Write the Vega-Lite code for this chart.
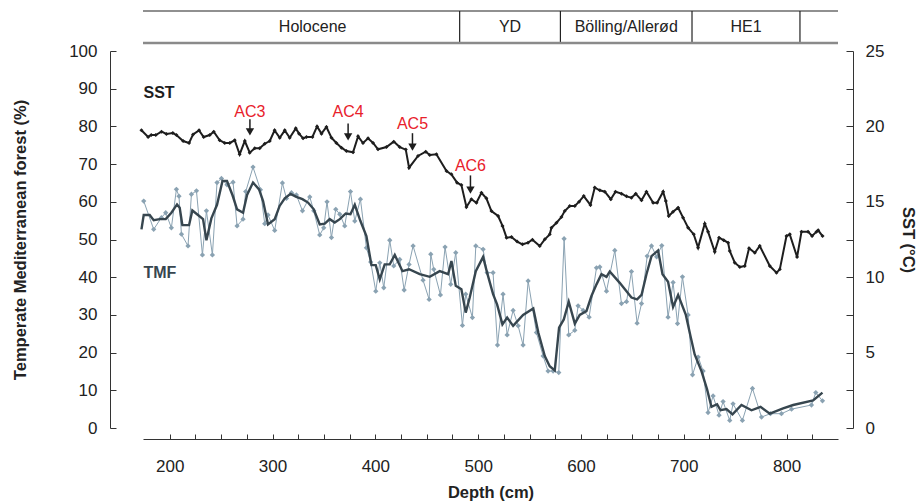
{
  "$schema": "https://vega.github.io/schema/vega-lite/v6.json",
  "background": "white",
  "padding": {"left": 12, "top": 10, "right": 5, "bottom": 0},
  "width": 695,
  "height": 417,
  "config": {
    "view": {"stroke": null},
    "font": "Liberation Sans",
    "axis": {
      "labelFont": "Liberation Sans",
      "titleFont": "Liberation Sans",
      "labelFontSize": 17,
      "labelColor": "#222222",
      "titleFontSize": 16.5,
      "titleFontWeight": "bold",
      "titleColor": "#222222",
      "domainColor": "#333333",
      "tickColor": "#333333",
      "grid": false
    }
  },
  "datasets": {
    "periods": [
      {"period": "Holocene", "start": 196, "end": 482},
      {"period": "YD", "start": 482, "end": 580},
      {"period": "Bölling/Allerød", "start": 580, "end": 708},
      {"period": "HE1", "start": 708, "end": 813}
    ],
    "sst": [
      {"depth": 172.5, "sst": 19.74}, {"depth": 179, "sst": 19.3}, {"depth": 182, "sst": 19.43}, {"depth": 186.4, "sst": 19.43},
      {"depth": 192, "sst": 19.65}, {"depth": 196.8, "sst": 19.5}, {"depth": 203, "sst": 19.56}, {"depth": 206.5, "sst": 19.43},
      {"depth": 213, "sst": 19.03}, {"depth": 218.8, "sst": 18.9}, {"depth": 222.7, "sst": 19.47}, {"depth": 228.5, "sst": 19.74},
      {"depth": 233, "sst": 19.3}, {"depth": 238.9, "sst": 19.43}, {"depth": 242.8, "sst": 19.65}, {"depth": 248.6, "sst": 19.08},
      {"depth": 253.5, "sst": 18.9}, {"depth": 258.4, "sst": 18.9}, {"depth": 263.2, "sst": 19.08}, {"depth": 268, "sst": 18.15},
      {"depth": 273, "sst": 19.03}, {"depth": 277.8, "sst": 18.26}, {"depth": 282.7, "sst": 18.55}, {"depth": 287.5, "sst": 18.55},
      {"depth": 292.4, "sst": 18.85}, {"depth": 297.3, "sst": 19.03}, {"depth": 302, "sst": 19.74}, {"depth": 307, "sst": 19.25},
      {"depth": 311.9, "sst": 19.74}, {"depth": 316.7, "sst": 19.25}, {"depth": 322.6, "sst": 19.87}, {"depth": 325.8, "sst": 19.52},
      {"depth": 329.7, "sst": 19.21}, {"depth": 333, "sst": 19.3}, {"depth": 338.8, "sst": 19.3}, {"depth": 343.3, "sst": 20.0},
      {"depth": 347.6, "sst": 19.52}, {"depth": 352.4, "sst": 19.96}, {"depth": 357.3, "sst": 19.25}, {"depth": 362.1, "sst": 18.9},
      {"depth": 367, "sst": 18.59}, {"depth": 371.9, "sst": 18.37}, {"depth": 378.3, "sst": 18.28}, {"depth": 383.2, "sst": 19.34},
      {"depth": 388, "sst": 18.9}, {"depth": 392.9, "sst": 19.21}, {"depth": 397.8, "sst": 18.9}, {"depth": 402.6, "sst": 18.48},
      {"depth": 410.8, "sst": 18.63}, {"depth": 417.9, "sst": 18.99}, {"depth": 423.7, "sst": 18.63}, {"depth": 429.6, "sst": 18.46},
      {"depth": 432.8, "sst": 17.26}, {"depth": 441.5, "sst": 18.04}, {"depth": 449, "sst": 18.32}, {"depth": 452.9, "sst": 18.1},
      {"depth": 459.4, "sst": 18.15}, {"depth": 469.2, "sst": 17.04}, {"depth": 474, "sst": 16.82}, {"depth": 479.5, "sst": 16.27},
      {"depth": 483.7, "sst": 16.11}, {"depth": 488.6, "sst": 14.66}, {"depth": 493.4, "sst": 15.17}, {"depth": 498.3, "sst": 14.94},
      {"depth": 503.2, "sst": 15.6}, {"depth": 508, "sst": 15.23}, {"depth": 512.9, "sst": 14.39}, {"depth": 519.4, "sst": 14.06},
      {"depth": 523.7, "sst": 13.4}, {"depth": 527.6, "sst": 12.62}, {"depth": 532.4, "sst": 12.67}, {"depth": 537.9, "sst": 12.36},
      {"depth": 543.1, "sst": 12.18}, {"depth": 548.5, "sst": 12.29}, {"depth": 552.8, "sst": 12.49}, {"depth": 559.9, "sst": 12.07},
      {"depth": 564.8, "sst": 12.51}, {"depth": 569.6, "sst": 12.84}, {"depth": 571.3, "sst": 13.28}, {"depth": 576.2, "sst": 13.61},
      {"depth": 581, "sst": 13.99}, {"depth": 584.2, "sst": 14.39}, {"depth": 589.1, "sst": 14.72}, {"depth": 594, "sst": 14.72},
      {"depth": 598.2, "sst": 15.01}, {"depth": 602.7, "sst": 15.38}, {"depth": 609.2, "sst": 14.79}, {"depth": 613.4, "sst": 15.94},
      {"depth": 618.3, "sst": 15.76}, {"depth": 623.2, "sst": 15.67}, {"depth": 629, "sst": 15.17}, {"depth": 633.6, "sst": 15.67},
      {"depth": 639.4, "sst": 15.54}, {"depth": 644.3, "sst": 15.36}, {"depth": 649.1, "sst": 15.27}, {"depth": 653.3, "sst": 15.54},
      {"depth": 658.9, "sst": 15.1}, {"depth": 663.7, "sst": 15.67}, {"depth": 670.2, "sst": 14.94}, {"depth": 674.1, "sst": 14.94},
      {"depth": 679.9, "sst": 15.67}, {"depth": 682.5, "sst": 15.05}, {"depth": 685.4, "sst": 14.06}, {"depth": 689.6, "sst": 14.34},
      {"depth": 694.5, "sst": 14.61}, {"depth": 699.3, "sst": 13.95}, {"depth": 704.2, "sst": 13.28}, {"depth": 709.7, "sst": 12.84},
      {"depth": 713.9, "sst": 11.96}, {"depth": 720.4, "sst": 13.55}, {"depth": 723.6, "sst": 13.02}, {"depth": 730.1, "sst": 11.69},
      {"depth": 734.3, "sst": 12.62}, {"depth": 738.9, "sst": 12.45}, {"depth": 743.1, "sst": 12.29}, {"depth": 744.7, "sst": 11.74},
      {"depth": 749.6, "sst": 10.96}, {"depth": 754.5, "sst": 10.68}, {"depth": 759.3, "sst": 10.74}, {"depth": 763.5, "sst": 11.92},
      {"depth": 769.1, "sst": 11.62}, {"depth": 773.9, "sst": 12.07}, {"depth": 783.7, "sst": 10.74}, {"depth": 790.2, "sst": 10.3},
      {"depth": 793.4, "sst": 10.52}, {"depth": 799.9, "sst": 12.73}, {"depth": 803.1, "sst": 12.84}, {"depth": 810.2, "sst": 11.34},
      {"depth": 814.5, "sst": 13.02}, {"depth": 820.9, "sst": 13.02}, {"depth": 824.8, "sst": 12.73}, {"depth": 829.1, "sst": 13.02},
      {"depth": 830.7, "sst": 13.11}, {"depth": 835, "sst": 12.73}
    ],
    "tmfRaw": [
      {"depth": 174.7, "tmf": 60.2}, {"depth": 184.4, "tmf": 52.7}, {"depth": 191.9, "tmf": 55.8}, {"depth": 196.1, "tmf": 57.1},
      {"depth": 201.6, "tmf": 53.1}, {"depth": 206.5, "tmf": 63.3}, {"depth": 209, "tmf": 61.5}, {"depth": 211.4, "tmf": 51.4},
      {"depth": 217.8, "tmf": 48.3}, {"depth": 221.1, "tmf": 62}, {"depth": 226, "tmf": 62.9}, {"depth": 231.8, "tmf": 45.9},
      {"depth": 235.7, "tmf": 57.6}, {"depth": 241.5, "tmf": 45.9}, {"depth": 246, "tmf": 65.1}, {"depth": 250.3, "tmf": 66.2},
      {"depth": 255.7, "tmf": 64.5}, {"depth": 261.6, "tmf": 65.2}, {"depth": 265.5, "tmf": 53.6}, {"depth": 271.3, "tmf": 55.4},
      {"depth": 273.9, "tmf": 62.7}, {"depth": 281, "tmf": 69.2}, {"depth": 288.2, "tmf": 63.2}, {"depth": 292.4, "tmf": 54.2},
      {"depth": 295.6, "tmf": 56.5}, {"depth": 302.1, "tmf": 52.4}, {"depth": 309.6, "tmf": 65}, {"depth": 313.5, "tmf": 60.9},
      {"depth": 318.4, "tmf": 62.4}, {"depth": 323.2, "tmf": 61.8}, {"depth": 329.1, "tmf": 57.6}, {"depth": 336.2, "tmf": 61.3},
      {"depth": 340.1, "tmf": 57.6}, {"depth": 345.9, "tmf": 51.2}, {"depth": 349.8, "tmf": 53.1}, {"depth": 353, "tmf": 60},
      {"depth": 357.3, "tmf": 50.5}, {"depth": 361.5, "tmf": 58}, {"depth": 365.4, "tmf": 56.7}, {"depth": 370.2, "tmf": 53.6},
      {"depth": 375.8, "tmf": 62.7}, {"depth": 380, "tmf": 54.9}, {"depth": 385.5, "tmf": 60.7}, {"depth": 391.3, "tmf": 47.8},
      {"depth": 395.5, "tmf": 44.0}, {"depth": 400.4, "tmf": 36.3}, {"depth": 404.3, "tmf": 43.8}, {"depth": 408.2, "tmf": 37.2},
      {"depth": 414, "tmf": 49.8}, {"depth": 417.9, "tmf": 43}, {"depth": 423.7, "tmf": 44.7}, {"depth": 428, "tmf": 36.6},
      {"depth": 432.8, "tmf": 43.4}, {"depth": 436.7, "tmf": 48.3}, {"depth": 446.4, "tmf": 39.2}, {"depth": 452.3, "tmf": 34.1},
      {"depth": 453.9, "tmf": 46.1}, {"depth": 456.8, "tmf": 42.1}, {"depth": 463.3, "tmf": 35.3}, {"depth": 467.8, "tmf": 48},
      {"depth": 473.3, "tmf": 38.1}, {"depth": 478.2, "tmf": 46.5}, {"depth": 484.7, "tmf": 27.2}, {"depth": 487.9, "tmf": 35.5},
      {"depth": 494.4, "tmf": 29.3}, {"depth": 497.7, "tmf": 48.3}, {"depth": 504.8, "tmf": 47.4}, {"depth": 508.7, "tmf": 41.2},
      {"depth": 514.5, "tmf": 41.2}, {"depth": 518.8, "tmf": 22}, {"depth": 524.2, "tmf": 35.5}, {"depth": 528.2, "tmf": 24.7},
      {"depth": 534, "tmf": 31.2}, {"depth": 538.9, "tmf": 27.1}, {"depth": 543.7, "tmf": 22}, {"depth": 548.6, "tmf": 39},
      {"depth": 556.7, "tmf": 25.3}, {"depth": 563.2, "tmf": 19.1}, {"depth": 568, "tmf": 15.1}, {"depth": 572.9, "tmf": 15.1},
      {"depth": 578.4, "tmf": 14.7}, {"depth": 583.6, "tmf": 50.2}, {"depth": 588.1, "tmf": 24.7}, {"depth": 594, "tmf": 25.9},
      {"depth": 597.2, "tmf": 32.4}, {"depth": 602.1, "tmf": 31.2}, {"depth": 607.9, "tmf": 29.4}, {"depth": 615.1, "tmf": 42.5},
      {"depth": 618.3, "tmf": 42.7}, {"depth": 624.8, "tmf": 36.3}, {"depth": 632.9, "tmf": 47.1}, {"depth": 639.4, "tmf": 33},
      {"depth": 644.3, "tmf": 33.5}, {"depth": 649.1, "tmf": 41.5}, {"depth": 654.6, "tmf": 27.8}, {"depth": 658.9, "tmf": 33},
      {"depth": 664.4, "tmf": 45.6}, {"depth": 668.6, "tmf": 48.3}, {"depth": 673.6, "tmf": 45.4}, {"depth": 678.6, "tmf": 48.4},
      {"depth": 684.7, "tmf": 29.4}, {"depth": 689.6, "tmf": 38.6}, {"depth": 693.9, "tmf": 27.7}, {"depth": 698.7, "tmf": 40.1},
      {"depth": 704.2, "tmf": 30}, {"depth": 708.5, "tmf": 14.1}, {"depth": 714, "tmf": 18.8}, {"depth": 718.8, "tmf": 15.1},
      {"depth": 723.6, "tmf": 4.1}, {"depth": 728.5, "tmf": 8.5}, {"depth": 734.3, "tmf": 3.4}, {"depth": 738.2, "tmf": 7},
      {"depth": 744.7, "tmf": 2}, {"depth": 747.9, "tmf": 6.4}, {"depth": 757, "tmf": 2}, {"depth": 766.8, "tmf": 10.5},
      {"depth": 775.6, "tmf": 2.9}, {"depth": 784.3, "tmf": 3.8}, {"depth": 795, "tmf": 3.8}, {"depth": 804.8, "tmf": 5},
      {"depth": 824.2, "tmf": 6.1}, {"depth": 828.4, "tmf": 9.4}, {"depth": 834.9, "tmf": 7.2}
    ],
    "tmfSmooth": [
      {"depth": 172.5, "tmf": 52.7}, {"depth": 174.7, "tmf": 56.5}, {"depth": 180.5, "tmf": 56.5}, {"depth": 184.4, "tmf": 55.1},
      {"depth": 190.3, "tmf": 55.4}, {"depth": 196.1, "tmf": 55.4}, {"depth": 201.6, "tmf": 57.1}, {"depth": 207.1, "tmf": 59.3},
      {"depth": 209.7, "tmf": 58.4}, {"depth": 212.3, "tmf": 53.8}, {"depth": 218.8, "tmf": 53.8}, {"depth": 222, "tmf": 57.7},
      {"depth": 227.5, "tmf": 56.5}, {"depth": 232.4, "tmf": 55.4}, {"depth": 235.7, "tmf": 49.8}, {"depth": 240.5, "tmf": 55.6},
      {"depth": 246, "tmf": 59.2}, {"depth": 251.3, "tmf": 65.5}, {"depth": 255.7, "tmf": 65.5}, {"depth": 261, "tmf": 61.8},
      {"depth": 265.5, "tmf": 58}, {"depth": 271.3, "tmf": 57.1}, {"depth": 275.2, "tmf": 61.8}, {"depth": 281, "tmf": 65.1},
      {"depth": 286.9, "tmf": 63.3}, {"depth": 290.8, "tmf": 60.2}, {"depth": 295.6, "tmf": 54}, {"depth": 302.1, "tmf": 55.4},
      {"depth": 306.9, "tmf": 58.9}, {"depth": 311.9, "tmf": 60.9}, {"depth": 317.4, "tmf": 62.1}, {"depth": 323.2, "tmf": 61.3},
      {"depth": 329.1, "tmf": 60.7}, {"depth": 334.5, "tmf": 59.8}, {"depth": 340.1, "tmf": 58}, {"depth": 345.9, "tmf": 54},
      {"depth": 350.8, "tmf": 54.2}, {"depth": 355.6, "tmf": 55.4}, {"depth": 360.5, "tmf": 54.5}, {"depth": 365.4, "tmf": 55.4},
      {"depth": 371.2, "tmf": 56.9}, {"depth": 375.8, "tmf": 56.7}, {"depth": 380, "tmf": 59.2}, {"depth": 385.5, "tmf": 54.9},
      {"depth": 391.3, "tmf": 50.9}, {"depth": 396.2, "tmf": 43.2}, {"depth": 400.4, "tmf": 43.2}, {"depth": 404.3, "tmf": 39.4},
      {"depth": 409.1, "tmf": 43.4}, {"depth": 414, "tmf": 43.4}, {"depth": 418.9, "tmf": 45.9}, {"depth": 426.4, "tmf": 41.6},
      {"depth": 432.8, "tmf": 42.1}, {"depth": 443.2, "tmf": 40.8}, {"depth": 452.9, "tmf": 40.1}, {"depth": 462.6, "tmf": 41.6},
      {"depth": 470.8, "tmf": 40.8}, {"depth": 474, "tmf": 44.3}, {"depth": 478.2, "tmf": 37.7}, {"depth": 483.7, "tmf": 36.8},
      {"depth": 487.9, "tmf": 30.6}, {"depth": 491.8, "tmf": 34.6}, {"depth": 497.7, "tmf": 41.6}, {"depth": 504.8, "tmf": 45.4},
      {"depth": 508.7, "tmf": 41.2}, {"depth": 514.5, "tmf": 35.5}, {"depth": 518.4, "tmf": 32.8}, {"depth": 523.6, "tmf": 27.5},
      {"depth": 528.2, "tmf": 29.3}, {"depth": 534, "tmf": 27.1}, {"depth": 543.7, "tmf": 30}, {"depth": 553.6, "tmf": 31.7},
      {"depth": 558.5, "tmf": 25.3}, {"depth": 564.8, "tmf": 19.1}, {"depth": 569.6, "tmf": 16.4}, {"depth": 574.5, "tmf": 15.3},
      {"depth": 578.7, "tmf": 26.6}, {"depth": 583.3, "tmf": 28.8}, {"depth": 588.1, "tmf": 33.5}, {"depth": 594, "tmf": 27.7},
      {"depth": 598.8, "tmf": 30}, {"depth": 605.3, "tmf": 31}, {"depth": 610.2, "tmf": 35}, {"depth": 615.1, "tmf": 38.1},
      {"depth": 619.9, "tmf": 40.8}, {"depth": 624.8, "tmf": 40.1}, {"depth": 628, "tmf": 41.5}, {"depth": 637.7, "tmf": 38.5},
      {"depth": 649.1, "tmf": 34.6}, {"depth": 654.6, "tmf": 34.1}, {"depth": 658.9, "tmf": 35.3}, {"depth": 663.7, "tmf": 40.8},
      {"depth": 668.6, "tmf": 45.6}, {"depth": 675, "tmf": 47.1}, {"depth": 679.3, "tmf": 40.8}, {"depth": 684.7, "tmf": 38.8},
      {"depth": 689.6, "tmf": 32.1}, {"depth": 694.5, "tmf": 35.3}, {"depth": 702, "tmf": 30}, {"depth": 706.5, "tmf": 24.4},
      {"depth": 710.6, "tmf": 19.5}, {"depth": 717.2, "tmf": 15.1}, {"depth": 722.6, "tmf": 10.3}, {"depth": 726.9, "tmf": 5.6},
      {"depth": 732.4, "tmf": 6.3}, {"depth": 735.7, "tmf": 4.7}, {"depth": 741.5, "tmf": 5}, {"depth": 747.4, "tmf": 3.6},
      {"depth": 756.1, "tmf": 6.1}, {"depth": 765.9, "tmf": 4.7}, {"depth": 774.7, "tmf": 5.6}, {"depth": 783.7, "tmf": 3.8},
      {"depth": 796.6, "tmf": 5.2}, {"depth": 806.4, "tmf": 6.1}, {"depth": 825.8, "tmf": 7.3}, {"depth": 834.9, "tmf": 9.4}
    ],
    "events": [
      {"event": "AC3", "depth": 278, "textSst": 20.97, "top": 20.47, "tip": 19.63},
      {"event": "AC4", "depth": 373.5, "textSst": 20.97, "top": 20.2, "tip": 19.3},
      {"event": "AC5", "depth": 436.1, "textSst": 20.14, "top": 19.55, "tip": 18.63},
      {"event": "AC6", "depth": 492.5, "textSst": 17.37, "top": 16.75, "tip": 15.78}
    ],
    "seriesLabels": [
      {"label": "SST", "depth": 174.5, "tmf": 88.9},
      {"label": "TMF", "depth": 174.5, "tmf": 41.1}
    ]
  },
  "encoding": {
    "x": {
      "field": "depth", "type": "quantitative",
      "scale": {"domain": [174, 850], "nice": false, "zero": false},
      "axis": {
        "title": "Depth (cm)",
        "orient": "bottom",
        "offset": 11,
        "values": [200, 225, 250, 275, 300, 325, 350, 375, 400, 425, 450, 475, 500, 525, 550, 575, 600, 625, 650, 675, 700, 725, 750, 775, 800, 825],
        "labelExpr": "datum.value % 100 === 0 ? datum.label : ''",
        "tickSize": -5,
        "labelPadding": 24,
        "titlePadding": 10
      }
    }
  },
  "layer": [
    {
      "data": {"name": "tmfRaw"},
      "mark": {"type": "line", "color": "#8aa2b2", "strokeWidth": 1, "point": {"shape": "diamond", "size": 28, "filled": true, "color": "#8aa2b2"}},
      "encoding": {
        "y": {
          "field": "tmf", "type": "quantitative",
          "scale": {"domain": [0, 100], "nice": false, "range": [417, 40]},
          "axis": {
            "title": "Temperate Mediterranean forest (%)",
            "orient": "left",
            "offset": 33,
            "values": [0, 10, 20, 30, 40, 50, 60, 70, 80, 90, 100],
            "tickSize": -6,
            "labelPadding": 19,
            "titlePadding": 40
          }
        }
      }
    },
    {
      "data": {"name": "tmfSmooth"},
      "mark": {"type": "line", "color": "#37464f", "strokeWidth": 2.4},
      "encoding": {
        "y": {"field": "tmf", "type": "quantitative", "scale": {"domain": [0, 100], "nice": false, "range": [417, 40]}, "axis": null}
      }
    },
    {
      "data": {"name": "seriesLabels"},
      "transform": [{"filter": "datum.label === 'SST'"}],
      "mark": {"type": "text", "align": "left", "fontSize": 16, "fontWeight": "bold", "color": "#1e1e1e", "font": "Liberation Sans"},
      "encoding": {
        "y": {"field": "tmf", "type": "quantitative", "scale": {"domain": [0, 100], "nice": false, "range": [417, 40]}, "axis": null},
        "text": {"field": "label"}
      }
    },
    {
      "data": {"name": "seriesLabels"},
      "transform": [{"filter": "datum.label === 'TMF'"}],
      "mark": {"type": "text", "align": "left", "fontSize": 16, "fontWeight": "bold", "color": "#37464f", "font": "Liberation Sans"},
      "encoding": {
        "y": {"field": "tmf", "type": "quantitative", "scale": {"domain": [0, 100], "nice": false, "range": [417, 40]}, "axis": null},
        "text": {"field": "label"}
      }
    },
    {
      "data": {"name": "sst"},
      "mark": {"type": "line", "color": "#1e1e1e", "strokeWidth": 2, "point": {"shape": "diamond", "size": 16, "filled": true, "color": "#1e1e1e"}},
      "encoding": {
        "y": {
          "field": "sst", "type": "quantitative",
          "scale": {"domain": [0, 25], "nice": false, "range": [417, 40]},
          "axis": {
            "title": "SST (°C)",
            "orient": "right",
            "offset": 15,
            "values": [0, 2.5, 5, 7.5, 10, 12.5, 15, 17.5, 20, 22.5, 25],
            "labelExpr": "datum.value % 5 === 0 ? datum.label : ''",
            "tickSize": -7,
            "labelPadding": 19,
            "titlePadding": 16
          }
        }
      }
    },
    {
      "data": {"name": "events"},
      "mark": {"type": "rule", "color": "#1e1e1e", "strokeWidth": 1.5},
      "encoding": {
        "y": {"field": "top", "type": "quantitative", "scale": {"domain": [0, 25], "nice": false, "range": [417, 40]}, "axis": null},
        "y2": {"field": "tip"}
      }
    },
    {
      "data": {"name": "events"},
      "mark": {"type": "point", "shape": "triangle-down", "filled": true, "size": 70, "color": "#1e1e1e", "opacity": 1},
      "encoding": {
        "y": {"field": "tip", "type": "quantitative", "scale": {"domain": [0, 25], "nice": false, "range": [417, 40]}, "axis": null}
      }
    },
    {
      "data": {"name": "events"},
      "mark": {"type": "text", "fontSize": 16, "color": "#e8212b", "font": "Liberation Sans"},
      "encoding": {
        "y": {"field": "textSst", "type": "quantitative", "scale": {"domain": [0, 25], "nice": false, "range": [417, 40]}, "axis": null},
        "text": {"field": "event"}
      }
    },
    {
      "data": {"name": "periods"},
      "transform": [{"calculate": "datum.end", "as": "depth"}],
      "mark": {"type": "rule", "color": "#222222", "strokeWidth": 1.2},
      "encoding": {
        "y": {"datum": 0, "type": "quantitative", "scale": {"domain": [0, 1], "range": [32, 0]}, "axis": null},
        "y2": {"datum": 1}
      }
    },
    {
      "data": {"name": "periods"},
      "transform": [{"calculate": "(datum.start + datum.end) / 2", "as": "depth"}],
      "mark": {"type": "text", "fontSize": 16, "color": "#222222", "font": "Liberation Sans", "baseline": "middle"},
      "encoding": {
        "y": {"datum": 0.5, "type": "quantitative", "scale": {"domain": [0, 1], "range": [32, 0]}, "axis": null},
        "text": {"field": "period"}
      }
    },
    {
      "data": {"values": [{"depth": 174, "depthEnd": 850}]},
      "mark": {"type": "rule", "color": "#222222", "strokeWidth": 1.2},
      "encoding": {
        "x2": {"field": "depthEnd"},
        "y": {"datum": 1, "type": "quantitative", "scale": {"domain": [0, 1], "range": [32, 0]}, "axis": null}
      }
    },
    {
      "data": {"values": [{"depth": 174, "depthEnd": 850}]},
      "mark": {"type": "rule", "color": "#8a8a8a", "strokeWidth": 2.5},
      "encoding": {
        "x2": {"field": "depthEnd"},
        "y": {"datum": 0, "type": "quantitative", "scale": {"domain": [0, 1], "range": [32, 0]}, "axis": null}
      }
    }
  ],
  "resolve": {"scale": {"y": "independent"}}
}
